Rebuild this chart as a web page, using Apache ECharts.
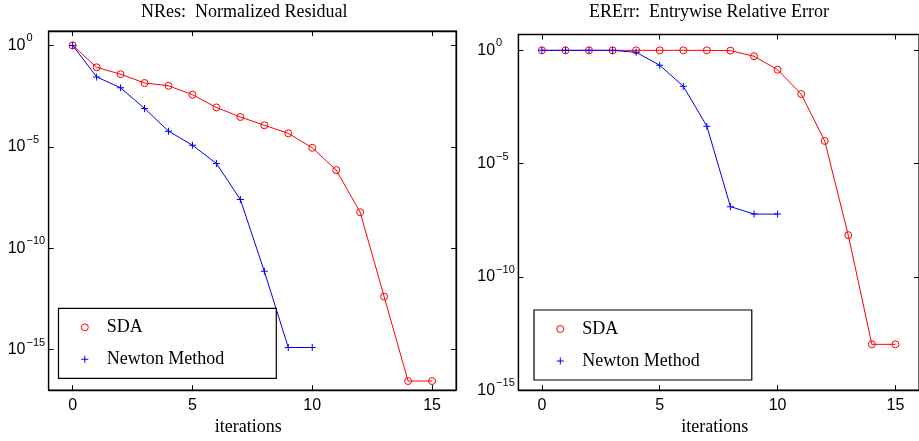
<!DOCTYPE html>
<html>
<head>
<meta charset="utf-8">
<script src="https://cdn.jsdelivr.net/npm/echarts@6/dist/echarts.min.js"></script>
<style>html,body{margin:0;padding:0;background:#fff}#c{width:919px;height:441px}</style>
</head>
<body>
<div id="c"></div>
<script>
// ---- data ----
const iterSDA = [0,1,2,3,4,5,6,7,8,9,10,11,12,13,14,15];
const iterNewton = [0,1,2,3,4,5,6,7,8,9,10];
const nresSDA = [1, 0.083, 0.038, 0.014, 0.0102, 0.0037, 8.7e-4, 2.95e-4, 1.15e-4, 4.6e-5, 8.9e-6, 7.1e-7, 5.9e-9, 4.1e-13, 2.8e-17, 2.8e-17];
const nresNewton = [1, 0.028, 0.0081, 7.8e-4, 5.9e-5, 1.2e-5, 1.5e-6, 2.5e-8, 7.2e-12, 1.26e-15, 1.26e-15];
const ererrSDA = [1, 1, 1, 1, 1, 1, 1, 1, 0.97, 0.55, 0.14, 0.0118, 1.0e-4, 6.9e-9, 1.05e-13, 1.05e-13];
const ererrNewton = [1, 1, 1, 1, 0.82, 0.22, 0.026, 4.5e-4, 1.26e-7, 5.9e-8, 5.9e-8];
const xTicks = [0, 5, 10, 15];
const yTickExponents = [-15, -10, -5, 0];
const titles = ['NRes:  Normalized Residual', 'ERErr:  Entrywise Relative Error'];
const seriesNames = ['SDA', 'Newton Method'];
const xName = 'iterations';

// ---- helpers ----
const toLog = (xs, vs) => vs.map((v, i) => [xs[i], Math.log10(v)]);
const SANS = 'Liberation Sans';
const SERIF = 'Liberation Serif';
const PLUS = 'path://M3,0 H4 V3 H7 V4 H4 V7 H3 V4 H0 V3 H3 Z';
const RED = '#ff0000', BLUE = '#0000ff';
const CLEAR = 'rgba(0,0,0,0)';

function expLabel(v) {
  const e = Math.round(v);
  return '{a|10}{b|' + (e < 0 ? '\u2212' + (-e) : String(e)) + '}';
}

const grids = [
  {left: 48.7, top: 31, width: 407.3, height: 364},
  {left: 518.3, top: 34.5, width: 408, height: 361.2}
];
const yRanges = [{min: -17, max: 0.71}, {min: -15, max: 0.70}];

const xAxes = [], yAxes = [];
grids.forEach((g, gi) => {
  const axLine = {show: true, onZero: false, lineStyle: {color: '#000', width: 1.3}};
  const tick = {show: true, inside: true, length: 5, lineStyle: {color: '#000', width: 1}};
  xAxes.push({
    gridIndex: gi, type: 'value', min: -1, max: 16, position: 'bottom',
    axisLine: axLine,
    axisTick: Object.assign({customValues: xTicks}, tick),
    axisLabel: {show: true, customValues: xTicks, margin: 7, fontSize: 16, fontFamily: SANS, color: '#000'},
    splitLine: {show: false},
    name: xName, nameLocation: 'middle', nameGap: 23,
    nameTextStyle: {fontFamily: SERIF, fontSize: 18, color: '#000', padding: [0, 8, 0, 0]}
  });
  xAxes.push({
    gridIndex: gi, type: 'value', min: -1, max: 16, position: 'top',
    axisLine: axLine,
    axisTick: Object.assign({customValues: xTicks}, tick),
    axisLabel: {show: false},
    splitLine: {show: false}
  });
  yAxes.push({
    gridIndex: gi, type: 'value', min: yRanges[gi].min, max: yRanges[gi].max, position: 'left',
    axisLine: axLine,
    axisTick: Object.assign({customValues: yTickExponents}, tick),
    axisLabel: {
      show: true, customValues: yTickExponents, align: 'left', margin: 41,
      formatter: expLabel,
      rich: {
        a: {fontSize: 16, fontFamily: SANS, color: '#000'},
        b: {fontSize: 11, fontFamily: SANS, color: '#000', padding: [0, 0, 14, 1]}
      }
    },
    splitLine: {show: false}
  });
  yAxes.push({
    gridIndex: gi, type: 'value', min: yRanges[gi].min, max: yRanges[gi].max, position: 'right',
    axisLine: axLine,
    axisTick: Object.assign({customValues: yTickExponents}, tick),
    axisLabel: {show: false},
    splitLine: {show: false}
  });
});

function mkSeries(name, gi, data, isSDA) {
  return {
    name: name, type: 'line', xAxisIndex: gi * 2, yAxisIndex: gi * 2,
    data: data,
    symbol: isSDA ? 'circle' : PLUS,
    symbolSize: 7,
    showAllSymbol: true,
    lineStyle: {color: isSDA ? RED : BLUE, width: 1},
    itemStyle: isSDA ? {color: CLEAR, borderColor: RED, borderWidth: 1} : {color: BLUE, borderWidth: 0},
    emphasis: {disabled: true},
    animation: false
  };
}

const series = [
  mkSeries(seriesNames[0], 0, toLog(iterSDA, nresSDA), true),
  mkSeries(seriesNames[1], 0, toLog(iterNewton, nresNewton), false),
  mkSeries(seriesNames[0], 1, toLog(iterSDA, ererrSDA), true),
  mkSeries(seriesNames[1], 1, toLog(iterNewton, ererrNewton), false)
];

const legendData = [
  {name: seriesNames[0], icon: 'circle', itemStyle: {color: CLEAR, borderColor: RED, borderWidth: 1}},
  {name: seriesNames[1], icon: PLUS, itemStyle: {color: BLUE, borderWidth: 0}}
];
function mkLegend(left, top) {
  return {
    left: left, top: top, orient: 'vertical', selectedMode: false,
    padding: [9, 52, 9, 22.3], itemGap: 12, itemWidth: 34, itemHeight: 7,
    backgroundColor: '#fff', borderColor: '#000', borderWidth: 1.2, borderRadius: 0,
    textStyle: {fontFamily: SERIF, fontSize: 18, lineHeight: 20, color: '#000'},
    data: legendData
  };
}

const option = {
  animation: false,
  backgroundColor: '#fff',
  title: [
    {text: titles[0], left: 141, top: 3, padding: 0, textStyle: {fontFamily: SERIF, fontSize: 18, fontWeight: 'normal', color: '#000'}},
    {text: titles[1], left: 589, top: 3, padding: 0, textStyle: {fontFamily: SERIF, fontSize: 18, fontWeight: 'normal', color: '#000'}}
  ],
  grid: grids.map(g => Object.assign({show: true, borderColor: '#000', borderWidth: 1, backgroundColor: 'transparent'}, g)),
  xAxis: xAxes,
  yAxis: yAxes,
  legend: [mkLegend(58.5, 308.3), mkLegend(534, 310)],
  series: series
};

const chart = echarts.init(document.getElementById('c'), null, {renderer: 'canvas'});
chart.setOption(option);
</script>
</body>
</html>
